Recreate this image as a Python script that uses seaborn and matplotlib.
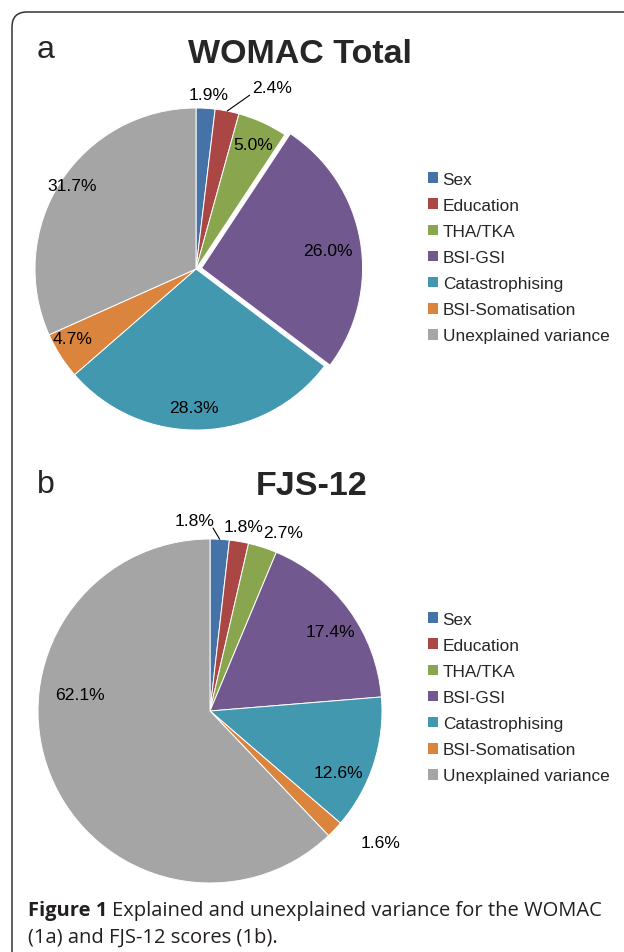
import numpy as np
import matplotlib
matplotlib.use('Agg')
import matplotlib.pyplot as plt
import seaborn as sns
from matplotlib.path import Path
from matplotlib.patches import PathPatch, Patch

sns.set_theme(style='white')
plt.rcParams['font.family'] = ['Liberation Sans', 'DejaVu Sans']

categories = ['Sex', 'Education', 'THA/TKA', 'BSI-GSI', 'Catastrophising',
              'BSI-Somatisation', 'Unexplained variance']
womac_values = [1.9, 2.4, 5.0, 26.0, 28.3, 4.7, 31.7]
fjs_values = [1.8, 1.8, 2.7, 17.4, 12.6, 1.6, 62.1]
palette = sns.color_palette(['#4572A7', '#AA4643', '#89A54E', '#71588F',
                             '#4198AF', '#DB843D', '#A5A5A5'])

W, H = 624, 953
fig = plt.figure(figsize=(W / 100, H / 100), dpi=100)


def fx(x):
    return x / W


def fy(y):
    return 1 - y / H


def pie_axes(cx, cy, r):
    return fig.add_axes([fx(cx - r), fy(cy + r), 2 * r / W, 2 * r / H])


# label placement: (radius factor, clockwise angle offset in degrees from wedge middle)
womac_lab = [(1.085, 0.8), (1.22, 11.6), (0.85, 0), (0.79, 2), (0.86, 3), (0.88, 3), (0.93, 1)]
fjs_lab = [(1.11, -8), (1.09, 0.5), (1.12, 4.4), (0.84, 2.4), (0.83, 7.6), (1.25, -6), (0.76, 29)]
womac_leaders = {1: (1.13, 6)}
fjs_leaders = {0: (1.064, -2.3)}


def draw_pie(ax, values, explode, lab, leaders):
    wedges, _ = ax.pie(values, colors=palette, startangle=90, counterclock=False,
                       explode=explode,
                       wedgeprops=dict(edgecolor='white', linewidth=0.7))
    ax.set_xlim(-1, 1)
    ax.set_ylim(-1, 1)
    ax.set_aspect('auto')
    ax.axis('off')
    for i, (w, v, (r, dth)) in enumerate(zip(wedges, values, lab)):
        w.set_clip_on(False)
        mid = (w.theta1 + w.theta2) / 2
        cx, cy = w.center
        a = np.deg2rad(mid - dth)
        ax.text(cx + r * np.cos(a), cy + r * np.sin(a), f'{v:.1f}%',
                ha='center', va='center', fontsize=12.6, color='black')
        if i in leaders:
            lr, ldth = leaders[i]
            m = np.deg2rad(mid)
            e = np.deg2rad(mid - ldth)
            ax.plot([cx + np.cos(m), cx + lr * np.cos(e)],
                    [cy + np.sin(m), cy + lr * np.sin(e)],
                    color='black', lw=0.8, clip_on=False)
    return wedges


ax1 = pie_axes(196, 270, 161)
draw_pie(ax1, womac_values, [0, 0, 0, 0.035, 0, 0, 0], womac_lab, womac_leaders)

ax2 = pie_axes(210, 712, 172)
draw_pie(ax2, fjs_values, [0] * 7, fjs_lab, fjs_leaders)

handles = [Patch(facecolor=c, edgecolor='none') for c in palette]
for top in (173, 613):
    fig.legend(handles, categories, loc='upper left',
               bbox_to_anchor=(fx(428), fy(top)), frameon=False,
               fontsize=12.4, borderpad=0, borderaxespad=0,
               handlelength=0.6, handleheight=0.6, handletextpad=0.25,
               labelspacing=0.64)

# titles and panel letters
fig.text(fx(300), fy(63), 'WOMAC Total', ha='center', va='baseline',
         fontsize=24.5, fontweight='bold')
fig.text(fx(312), fy(495), 'FJS-12', ha='center', va='baseline',
         fontsize=24.5, fontweight='bold')
fig.text(fx(37), fy(58), 'a', ha='left', va='baseline', fontsize=23)
fig.text(fx(37), fy(493), 'b', ha='left', va='baseline', fontsize=23)

# frame (left and top edge with rounded corner)
verts = [(fx(12), fy(960)), (fx(12), fy(28)), (fx(12), fy(13)), (fx(27), fy(13)),
         (fx(630), fy(13))]
codes = [Path.MOVETO, Path.LINETO, Path.CURVE3, Path.CURVE3, Path.LINETO]
fig.add_artist(PathPatch(Path(verts, codes), facecolor='none', edgecolor='#333333',
                         lw=1.1, transform=fig.transFigure))

# caption
cap_font = ['Open Sans', 'DejaVu Sans']
cap_size = 14.5
t1 = fig.text(fx(28), fy(916), 'Figure 1', ha='left', va='baseline', fontsize=cap_size,
              fontweight='bold', family=cap_font, color='#231f20')
fig.canvas.draw()
bb = t1.get_window_extent()
fig.text(fx(bb.x1 + 5), fy(916), 'Explained and unexplained variance for the WOMAC',
         ha='left', va='baseline', fontsize=cap_size, family=cap_font, color='#231f20')
fig.text(fx(28), fy(943), '(1a) and FJS-12 scores (1b).', ha='left', va='baseline',
         fontsize=cap_size, family=cap_font, color='#231f20')

fig.savefig('out.png', dpi=100)
